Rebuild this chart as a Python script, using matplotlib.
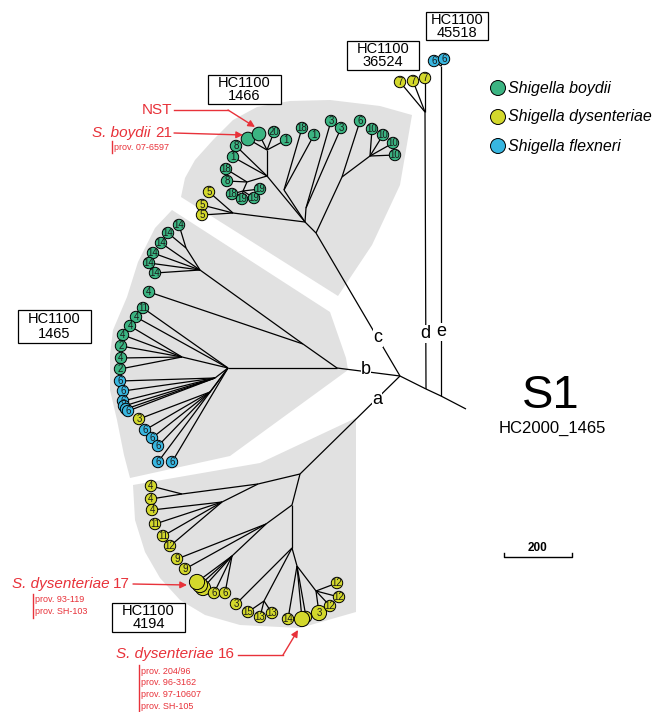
import matplotlib
matplotlib.use("Agg")
import matplotlib.pyplot as plt
from matplotlib.patches import Circle, Rectangle, Polygon

plt.rcParams['font.family'] = ['Liberation Sans', 'DejaVu Sans']

RED = '#e8323a'
GREY = '#e1e1e1'
SPECIES_COLORS = {'b': '#3bb482', 'd': '#d3d82c', 'f': '#38b6e0'}
SPECIES_NAMES = ['Shigella boydii', 'Shigella dysenteriae', 'Shigella flexneri']
SPECIES_KEYS = ['b', 'd', 'f']

# internal nodes of the tree: name, x, y, parent
node_name = ['C', 'D', 'E', 'S', 'dtop', 'etop',
             'T0', 'TA', 'N2', 'N1', 'N3', 'N4', 'N5', 'T3', 'T5', 'T6', 'T10',
             'LR', 'Lu', 'L14', 'L14a', 'Lmid', 'L4', 'Lb1', 'Lb2',
             'BR', 'Bu', 'B4a', 'B4', 'Bmid', 'B9', 'B17', 'Bl', 'B15', 'B16', 'B12']
node_x = [400, 426, 441, 466, 425, 441,
          316, 305, 267, 267, 247, 243, 284, 306, 233, 342, 370,
          337, 303, 200, 186, 228, 182, 215, 210,
          300, 258, 182, 222, 292, 266, 232, 292, 264, 297, 316]
node_y = [376, 389, 396, 409, 112, 66,
          233, 222, 176, 150, 182, 191, 190, 208, 213, 177, 156,
          368, 344, 270, 248, 368, 357, 378, 392,
          474, 484, 494, 502, 505, 524, 556, 548, 601, 566, 591]
node_parent = [None, 'C', 'D', 'E', 'D', 'E',
               'C', 'T0', 'TA', 'N2', 'N2', 'N3', 'TA', 'TA', 'TA', 'T0', 'T6',
               'C', 'LR', 'Lu', 'L14', 'LR', 'Lmid', 'Lmid', 'Lmid',
               'C', 'BR', 'Bu', 'Bu', 'BR', 'Bmid', 'B9', 'Bmid', 'Bl', 'Bl', 'B16']

# tips: label, x, y, parent, species, size (n normal, b big, h huge)
tip_label = ['7', '7', '7', '6', '6',
             '', '', '20', '1', '8', '1', '18', '8', '18', '19', '19', '19',
             '18', '1', '3', '3', '6', '10', '10', '10', '10', '5', '5', '5',
             '14', '14', '14', '14', '14', '14', '4', '11', '4', '4', '4', '2', '4', '2',
             '6', '6', '6', '', '', '6', '3', '6', '6', '6', '6', '6',
             '4', '4', '4', '11', '11', '12', '9', '9', '', '', '', '6', '6',
             '3', '15', '13', '13', '14', '', '', '3', '12', '12', '12']
tip_x = [400, 413, 425, 434, 444,
         248, 259, 274, 286, 236, 233, 226, 227, 232, 242, 254, 260,
         302, 314, 331, 341, 360, 372, 383, 393, 395, 209, 202, 202,
         179, 168, 161, 153, 149, 155, 149, 143, 136, 130, 123, 121, 121, 120,
         120, 123, 123, 124, 126, 128, 139, 145, 152, 158, 158, 172,
         151, 151, 152, 155, 163, 170, 177, 185, 203, 200, 197, 214, 225,
         236, 248, 260, 272, 288, 306, 302, 319, 330, 339, 337]
tip_y = [82, 81, 78, 61, 59,
         139, 134, 132, 140, 146, 157, 169, 181, 194, 199, 198, 189,
         128, 135, 121, 128, 121, 129, 135, 143, 155, 192, 205, 215,
         225, 233, 243, 253, 263, 273, 292, 308, 317, 326, 335, 346, 358, 369,
         381, 391, 401, 406, 409, 411, 419, 430, 438, 446, 462, 462,
         486, 499, 510, 524, 536, 546, 559, 569, 588, 585, 582, 593, 593,
         604, 612, 617, 613, 619, 617, 619, 613, 606, 597, 583]
tip_parent = ['dtop', 'dtop', 'dtop', 'etop', 'etop',
              'N1', 'N1', 'N1', 'N1', 'N2', 'N2', 'N3', 'N3', 'N4', 'N4', 'N4', 'N4',
              'N5', 'N5', 'T3', 'T3', 'T6', 'T10', 'T10', 'T10', 'T10', 'T5', 'T5', 'T5',
              'L14a', 'L14a', 'L14', 'L14', 'L14', 'L14', 'Lu', 'Lmid', 'Lmid',
              'L4', 'L4', 'L4', 'L4', 'L4',
              'Lb1', 'Lb1', 'Lb1', 'Lb1', 'Lb1', 'Lb1', 'Lb2', 'Lb2', 'Lb2', 'Lb2', 'Lmid', 'Lmid',
              'B4a', 'B4a', 'B4', 'B4', 'B4', 'B4', 'B9', 'B9', 'B17', 'B17', 'B17', 'B17', 'B17',
              'Bl', 'B15', 'B15', 'B15', 'B16', 'B16', 'B16', 'B12', 'B12', 'B12', 'B12']
tip_species = ['d', 'd', 'd', 'f', 'f'] + ['b'] * 21 + ['d'] * 3 + ['b'] * 14 + \
              ['f'] * 6 + ['d'] + ['f'] * 5 + ['d'] * 24
tip_size = ['n'] * 5 + ['b', 'b'] + ['n'] * 56 + ['h'] * 3 + ['n'] * 8 + ['h'] * 2 + ['n'] * 4
RADIUS = {'n': 5.7, 'b': 6.8, 'h': 7.6}

# shaded clades
top_wedge = [(181, 197), (185, 178), (195, 160), (213, 140), (233, 120), (257, 107), (290, 101),
             (330, 100), (380, 106), (412, 115), (400, 185), (372, 245), (338, 296)]
left_wedge = [(172, 210), (155, 228), (138, 262), (127, 297), (113, 330), (110, 355),
              (110, 390), (117, 420), (124, 455), (130, 478), (230, 456), (348, 370),
              (346, 358), (330, 312)]
bottom_wedge = [(133, 485), (135, 520), (145, 552), (160, 578), (180, 600), (205, 615),
                (240, 625), (300, 628), (356, 612), (356, 418), (260, 463)]

fig = plt.figure(figsize=(6.52, 7.12), dpi=100)
ax = fig.add_axes([0, 0, 1, 1])
ax.set_xlim(0, 652)
ax.set_ylim(712, 0)
ax.axis('off')

for poly in (top_wedge, left_wedge, bottom_wedge):
    ax.add_patch(Polygon(poly, closed=True, facecolor=GREY, edgecolor='none', zorder=0))

pos = {n: (x, y) for n, x, y in zip(node_name, node_x, node_y)}
for n, p in zip(node_name, node_parent):
    if p is None:
        continue
    (x0, y0), (x1, y1) = pos[p], pos[n]
    ax.plot([x0, x1], [y0, y1], color='black', lw=0.9, zorder=2, solid_capstyle='butt')

for lab, x, y, p, sp, sz in zip(tip_label, tip_x, tip_y, tip_parent, tip_species, tip_size):
    x0, y0 = pos[p]
    ax.plot([x0, x], [y0, y], color='black', lw=0.9, zorder=2, solid_capstyle='butt')
for lab, x, y, p, sp, sz in zip(tip_label, tip_x, tip_y, tip_parent, tip_species, tip_size):
    ax.add_patch(Circle((x, y), RADIUS[sz], facecolor=SPECIES_COLORS[sp],
                        edgecolor='black', lw=0.7, zorder=3))
    if lab:
        ax.text(x, y + 0.4, lab, ha='center', va='center', fontsize=7, color='#1a1a1a', zorder=4)

# branch letters
branch_letter = ['a', 'b', 'c', 'd', 'e']
letter_x = [377, 366, 378, 425, 441]
letter_y = [399, 370, 338, 334, 332]
for t, x, y in zip(branch_letter, letter_x, letter_y):
    ax.text(x, y, t, ha='center', va='center', fontsize=13, zorder=5,
            bbox=dict(facecolor='white', edgecolor='none', pad=0.3))

# HC1100 boxes
box_lines = [('HC1100', '45518'), ('HC1100', '36524'), ('HC1100', '1466'),
             ('HC1100', '1465'), ('HC1100', '4194')]
box_left = [426, 347, 208, 18, 112]
box_top = [12, 41, 75, 310, 603]
box_w = [62, 72, 73, 73, 73]
box_h = [28, 29, 29, 33, 29]
for (l1, l2), x, y, w, h in zip(box_lines, box_left, box_top, box_w, box_h):
    ax.add_patch(Rectangle((x, y), w, h, facecolor='white', edgecolor='black', lw=0.9, zorder=5))
    ax.text(x + w / 2, y + h * 0.28, l1, ha='center', va='center', fontsize=10.5, zorder=6)
    ax.text(x + w / 2, y + h * 0.74, l2, ha='center', va='center', fontsize=10.5, zorder=6)

# legend
for i, (k, name) in enumerate(zip(SPECIES_KEYS, SPECIES_NAMES)):
    y = 88 + 29 * i
    ax.add_patch(Circle((498, y), 7.5, facecolor=SPECIES_COLORS[k], edgecolor='black', lw=0.7, zorder=3))
    ax.text(508, y, name, style='italic', ha='left', va='center', fontsize=11.5)

# title
ax.text(551, 396, 'S1', ha='center', va='center', fontsize=34)
ax.text(552, 428, 'HC2000_1465', ha='center', va='center', fontsize=12)

# scale bar
ax.plot([504, 504, 572, 572], [553, 557, 557, 553], color='black', lw=1.0)
ax.text(538, 548, '200', ha='center', va='center', fontsize=8.5, fontweight='bold')

# red annotations
renderer = fig.canvas.get_renderer()


def species_label(x, y, name, num):
    t = ax.text(x, y, num, ha='right', va='center', color=RED, fontsize=11)
    w = t.get_window_extent(renderer).width
    ax.text(x - w - 4, y, name, style='italic', ha='right', va='center', color=RED, fontsize=11)


def arrow(x0, y0, x1, y1):
    ax.annotate('', xy=(x1, y1), xytext=(x0, y0), zorder=6,
                arrowprops=dict(arrowstyle='-|>', color=RED, lw=1.0, mutation_scale=10,
                                shrinkA=0, shrinkB=0))


def prov_list(x, y0, lines):
    step = 11.8
    ax.plot([x - 2, x - 2], [y0 - 6, y0 + step * (len(lines) - 1) + 6], color=RED, lw=1.0)
    for i, s in enumerate(lines):
        ax.text(x, y0 + step * i, s, ha='left', va='center', color=RED, fontsize=6.5)


ax.text(172, 110, 'NST', ha='right', va='center', color=RED, fontsize=11)
ax.plot([174, 228], [110, 110], color=RED, lw=1.0)
arrow(228, 110, 255, 127)

species_label(172, 133, 'S. boydii', '21')
arrow(174, 133, 243, 135)
prov_list(114, 147, ['prov. 07-6597'])

species_label(130, 584, 'S. dysenteriae', '17')
arrow(133, 584, 187, 585)
prov_list(35, 600, ['prov. 93-119', 'prov. SH-103'])

species_label(235, 654, 'S. dysenteriae', '16')
ax.plot([238, 283], [655, 655], color=RED, lw=1.0)
arrow(283, 655, 298, 630)
prov_list(141, 671, ['prov. 204/96', 'prov. 96-3162', 'prov. 97-10607', 'prov. SH-105'])

fig.savefig('out.png', dpi=100)
